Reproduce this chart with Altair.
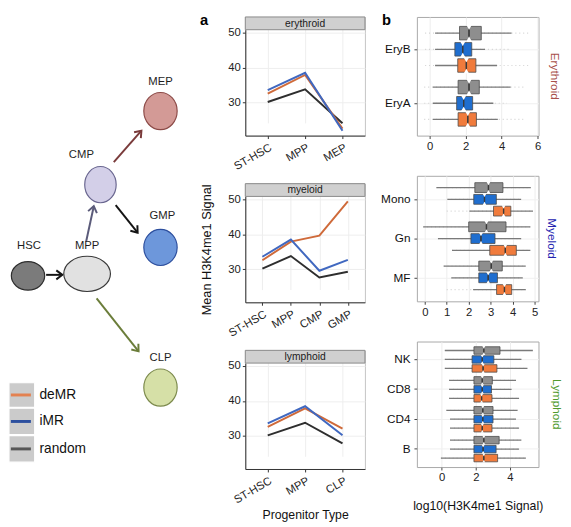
import math
import altair as alt
import pandas as pd

FONT = "Liberation Sans"

# ---------------- left: lineage diagram (reference pixel coordinates) ----------------
node_names = ["HSC", "MPP", "CMP", "MEP", "GMP", "CLP"]
node_x = [21, 83, 97, 160, 160, 160]
node_y = [278, 276, 185, 110, 249, 392]
node_w = [35, 49, 33, 35, 35, 35]
node_h = [30, 37, 38, 39, 38, 39]
node_fill = ["#7b7b7b", "#e1e1e1", "#d3cfe8", "#d39a96", "#6d97db", "#d6e0a7"]
node_stroke = ["#2e2e2e", "#3a3a3a", "#6a6790", "#8c4a47", "#2d4f9e", "#7c8a4c"]
label_x = [22, 83, 77, 160, 162, 160]
label_y = [248, 248, 155, 80, 217, 362]

arrow_from = ["HSC", "MPP", "CMP", "CMP", "MPP"]
arrow_to = ["MPP", "CMP", "MEP", "GMP", "CLP"]
arrow_x1 = [40, 82, 111, 113, 93]
arrow_y1 = [277, 243, 162, 206, 301]
arrow_x2 = [57, 90, 140, 136, 137]
arrow_y2 = [277, 207, 130, 234, 355]
arrow_color = ["#141414", "#5b5b7a", "#7a3b3b", "#141414", "#6b7d3a"]

legend_series = ["deMR", "iMR", "random"]
legend_top = [387, 413, 441]
legend_bottom = [412, 440, 468]
legend_left = [1, 1, 1]
legend_right = [28, 28, 28]
legend_key_color = ["#e38150", "#2c4f9e", "#575757"]

# ---------------- panel a: mean H3K4me1 signal ----------------
stages_ery = ["ST-HSC", "MPP", "MEP"]
stages_mye = ["ST-HSC", "MPP", "CMP", "GMP"]
stages_lym = ["ST-HSC", "MPP", "CLP"]
ery_deMR = [32.6, 37.9, 22.6]
ery_iMR = [33.6, 38.5, 22.0]
ery_random = [30.2, 33.8, 24.1]
mye_deMR = [32.6, 37.9, 39.6, 49.4]
mye_iMR = [33.6, 38.5, 29.6, 32.7]
mye_random = [30.2, 33.8, 27.7, 29.3]
lym_deMR = [32.6, 37.9, 32.1]
lym_iMR = [33.6, 38.5, 30.2]
lym_random = [30.2, 33.8, 27.9]
line_colors = {"random": "#2e2e2e", "deMR": "#cf6a3a", "iMR": "#4068c0"}

# ---------------- panel b: log10 signal box stats [lo, q1, median, q3, hi] ----------------
box_series = ["random", "iMR", "deMR"]
box_fill = {"random": "#8e8e8e", "iMR": "#1f6ecf", "deMR": "#f07b3c"}

ery_cells = ["EryB", "EryA"]
ery_random_b = [[0.30, 1.66, 2.19, 2.87, 4.55], [0.18, 1.58, 2.19, 2.76, 4.50]]
ery_iMR_b = [[0.30, 1.40, 1.84, 2.34, 3.08], [0.18, 1.50, 1.89, 2.39, 3.54]]
ery_deMR_b = [[0.30, 1.56, 2.04, 2.57, 3.75], [0.18, 1.58, 2.12, 2.60, 3.79]]
ery_tail_lo = {"random": [-0.25, -0.3], "iMR": [-0.25, -0.3], "deMR": [-0.25, -0.3]}
ery_tail_hi = {"random": [5.6, 5.3], "iMR": [4.4, 4.3], "deMR": [5.5, 5.2]}

mye_cells = ["Mono", "Gn", "MF"]
mye_random_b = [[0.53, 2.28, 2.90, 3.56, 4.83], [-0.07, 2.00, 2.81, 3.70, 4.81], [0.86, 2.46, 3.03, 3.53, 4.60]]
mye_iMR_b = [[1.03, 2.23, 2.72, 3.26, 4.39], [0.60, 2.10, 2.56, 3.20, 4.39], [1.21, 2.46, 2.89, 3.31, 4.46]]
mye_deMR_b = [[2.03, 3.13, 3.59, 3.92, 4.93], [1.24, 2.96, 3.67, 4.17, 4.81], [2.20, 3.27, 3.63, 3.96, 4.60]]
mye_tail_lo = {"random": [0.53, -0.07, 0.86], "iMR": [1.03, 0.60, 1.21], "deMR": [1.0, 1.24, 1.0]}
mye_tail_hi = {"random": [4.83, 4.81, 4.60], "iMR": [4.39, 4.39, 4.46], "deMR": [4.93, 4.81, 4.60]}

lym_cells = ["NK", "CD8", "CD4", "B"]
lym_random_b = [[0.18, 1.89, 2.47, 3.42, 5.35], [0.43, 1.89, 2.38, 2.97, 4.36],
                [0.27, 1.89, 2.41, 3.01, 4.45], [0.49, 1.89, 2.47, 3.37, 4.67]]
lym_iMR_b = [[0.18, 1.78, 2.38, 3.06, 4.68], [0.43, 1.89, 2.38, 2.92, 4.10],
             [0.49, 1.89, 2.41, 3.01, 4.36], [0.49, 1.89, 2.43, 3.19, 4.54]]
lym_deMR_b = [[0.18, 1.78, 2.43, 3.24, 5.03], [0.43, 1.89, 2.34, 2.95, 4.54],
              [0.49, 1.89, 2.38, 2.95, 4.54], [-0.05, 1.89, 2.47, 3.28, 4.94]]

# ---------------- layout ----------------
DW = 173
AW = 122
BW = 124
HEADER_H = 13
A_H = 108
B_HEIGHTS = [121, 128, 128]
TAG_Y = 8

IND = dict(color="independent", fill="independent", stroke="independent",
           shape="independent", size="independent", yOffset="independent", angle="independent")


def ellipse_path(r):
    k = 0.5523
    return (f"M 1 0 C 1 {k*r:.4f} {k:.4f} {r:.4f} 0 {r:.4f} "
            f"C {-k:.4f} {r:.4f} -1 {k*r:.4f} -1 0 "
            f"C -1 {-k*r:.4f} {-k:.4f} {-r:.4f} 0 {-r:.4f} "
            f"C {k:.4f} {-r:.4f} 1 {-k*r:.4f} 1 0 Z")


# ----- diagram -----
sx = DW / 178.0
DX = alt.Scale(domain=[0, 178], nice=False, zero=False)
DY = alt.Scale(domain=[14, 475], nice=False, zero=False, reverse=True)
DH = 461

nodes_df = pd.DataFrame({"node": node_names, "x": node_x, "y": node_y,
                         "size": [(w * sx) ** 2 for w in node_w]})
paths = [ellipse_path(h / w) for w, h in zip(node_w, node_h)]
nodes = alt.Chart(nodes_df).mark_point(opacity=1, strokeWidth=1.2, filled=False).encode(
    x=alt.X("x:Q", scale=DX, axis=None),
    y=alt.Y("y:Q", scale=DY, axis=None),
    shape=alt.Shape("node:N", scale=alt.Scale(domain=node_names, range=paths), legend=None),
    size=alt.Size("size:Q", scale=None),
    fill=alt.Fill("node:N", scale=alt.Scale(domain=node_names, range=node_fill), legend=None),
    stroke=alt.Stroke("node:N", scale=alt.Scale(domain=node_names, range=node_stroke), legend=None),
)

labels = alt.Chart(pd.DataFrame({"t": node_names, "x": label_x, "y": label_y})).mark_text(
    fontSize=11.5, color="#1e1e1e", baseline="middle").encode(
    x=alt.X("x:Q", scale=DX, axis=None), y=alt.Y("y:Q", scale=DY, axis=None), text="t:N")

arrow_ids = [f"{a}-{b}" for a, b in zip(arrow_from, arrow_to)]
arrow_angle = [
    math.degrees(math.atan2((x2 - x1) * sx, -(y2 - y1))) % 360
    for x1, y1, x2, y2 in zip(arrow_x1, arrow_y1, arrow_x2, arrow_y2)
]
arrows_df = pd.DataFrame({"id": arrow_ids, "x1": arrow_x1, "y1": arrow_y1,
                          "x2": arrow_x2, "y2": arrow_y2, "angle": arrow_angle})
arrow_scale = alt.Scale(domain=arrow_ids, range=arrow_color)
arrow_lines = alt.Chart(arrows_df).mark_rule(strokeWidth=2).encode(
    x=alt.X("x1:Q", scale=DX, axis=None), y=alt.Y("y1:Q", scale=DY, axis=None),
    x2="x2:Q", y2="y2:Q",
    color=alt.Color("id:N", scale=arrow_scale, legend=None))
arrow_heads = alt.Chart(arrows_df).mark_point(
    shape="M -0.75 1 L 0 0 L 0.75 1", filled=False, strokeWidth=2, size=150, opacity=1).encode(
    x=alt.X("x2:Q", scale=DX, axis=None), y=alt.Y("y2:Q", scale=DY, axis=None),
    angle=alt.Angle("angle:Q", scale=None),
    color=alt.Color("id:N", scale=arrow_scale, legend=None))

leg_df = pd.DataFrame({"s": legend_series, "t": legend_top, "b": legend_bottom,
                       "l": legend_left, "r": legend_right,
                       "c": [(t + b) / 2 for t, b in zip(legend_top, legend_bottom)],
                       "k1": [3, 3, 3], "k2": [24, 24, 24], "tx": [33, 33, 33]})
leg_box = alt.Chart(leg_df).mark_rect(fill="#cbcbcb", stroke="white", strokeWidth=1.2).encode(
    x=alt.X("l:Q", scale=DX, axis=None), x2="r:Q",
    y=alt.Y("t:Q", scale=DY, axis=None), y2="b:Q")
leg_key = alt.Chart(leg_df).mark_rule(strokeWidth=3).encode(
    x=alt.X("k1:Q", scale=DX, axis=None), x2="k2:Q",
    y=alt.Y("c:Q", scale=DY, axis=None),
    stroke=alt.Stroke("s:N", scale=alt.Scale(domain=legend_series, range=legend_key_color), legend=None))
leg_txt = alt.Chart(leg_df).mark_text(fontSize=14, align="left", baseline="middle", color="#111").encode(
    x=alt.X("tx:Q", scale=DX, axis=None), y=alt.Y("c:Q", scale=DY, axis=None), text="s:N")

diagram = alt.layer(leg_box, leg_key, leg_txt, arrow_lines, arrow_heads, nodes, labels).resolve_scale(
    color="independent", stroke="independent", fill="independent", shape="independent", size="independent"
).properties(width=DW, height=DH, view=alt.ViewBackground(strokeOpacity=0))


# ----- panel a (strip header drawn inside the top of each view) -----
def line_panel(name, stages, data, ytitle, xtitle, tag=None):
    rows = []
    for s, vals in data.items():
        for st, v in zip(stages, vals):
            rows.append({"stage": st, "series": s, "value": v})
    df = pd.DataFrame(rows)
    x = alt.X("stage:N", sort=stages, scale=alt.Scale(domain=stages, padding=0.6),
              axis=alt.Axis(title=xtitle, labelAngle=-30, labelAlign="right", labelBaseline="top",
                            labelFontSize=11.5, labelColor="#222", domainColor="#333", tickColor="#333",
                            tickSize=3, labelPadding=3, grid=True, gridColor="#eeeeee",
                            titleFontSize=12.5, titleFontWeight="normal", titleColor="#111",
                            titlePadding=3))
    y = alt.Y("value:Q", scale=alt.Scale(domain=[20.6, 50.8], range=[A_H + HEADER_H, HEADER_H],
                                         nice=False, zero=False),
              axis=alt.Axis(values=[30, 40, 50], title=ytitle, labelFontSize=11.5, labelColor="#222",
                            domainColor="#333", tickColor="#333", tickSize=3, labelPadding=2,
                            grid=True, gridColor="#eeeeee",
                            titleFontSize=13, titleFontWeight="normal", titleColor="#111",
                            titlePadding=15))
    layers = [
        alt.Chart(df).transform_filter(alt.datum.series == s).mark_line(
            strokeWidth=2, color=line_colors[s]).encode(x=x, y=y)
        for s in ["random", "deMR", "iMR"]
    ]
    hdf = pd.DataFrame({"t": [name]})
    layers.append(alt.Chart(hdf).mark_rect(fill="#d0d0d0", stroke="#8a8a8a", strokeWidth=1).encode(
        x=alt.value(0), x2=alt.value(AW), y=alt.value(0), y2=alt.value(HEADER_H)))
    layers.append(alt.Chart(hdf).mark_text(fontSize=10.5, color="#1a1a1a", baseline="middle").encode(
        text="t:N", x=alt.value(AW / 2), y=alt.value(HEADER_H / 2 + 0.5)))
    if tag:
        layers.append(alt.Chart(pd.DataFrame({"t": [tag]})).mark_text(
            fontSize=15, fontWeight="bold", color="#000", baseline="alphabetic").encode(
            text="t:N", x=alt.value(-42), y=alt.value(TAG_Y)))
    return alt.layer(*layers).properties(
        width=AW, height=A_H + HEADER_H, view=alt.ViewBackground(stroke="#c4c4c4", fill="white"))


a_panels = [
    line_panel("erythroid", stages_ery, {"random": ery_random, "deMR": ery_deMR, "iMR": ery_iMR},
               None, None, "a"),
    line_panel("myeloid", stages_mye, {"random": mye_random, "deMR": mye_deMR, "iMR": mye_iMR},
               "Mean H3K4me1 Signal", None),
    line_panel("lymphoid", stages_lym, {"random": lym_random, "deMR": lym_deMR, "iMR": lym_iMR},
               None, "Progenitor Type"),
]
acol = alt.vconcat(*a_panels, spacing=49, bounds="flush").resolve_scale(**IND)


# ----- panel b -----
NOTCH = "M -0.4 -1.2 L 0.4 -1.2 L 0 -0.5 Z M -0.4 1.2 L 0.4 1.2 L 0 0.5 Z"


def box_panel(cells, stats, tails_lo, tails_hi, xdom, xvals, height, title, tcolor, xtitle, tag=None):
    rows = []
    for s in box_series:
        for i, c in enumerate(cells):
            lo, q1, med, q3, hi = stats[s][i]
            rows.append(dict(cat=c, series=s, lo=lo, q1=q1, med=med, q3=q3, hi=hi,
                             tlo=tails_lo[s][i] if tails_lo else lo,
                             thi=tails_hi[s][i] if tails_hi else hi))
    df = pd.DataFrame(rows)
    n = len(cells)
    step = height / (n + 0.2)
    box_h = 0.25 * step
    xs = alt.Scale(domain=xdom, nice=False, zero=False)
    xax = alt.Axis(values=xvals, grid=True, gridColor="#ededed", domain=False, tickColor="#444",
                   tickSize=3, labelFontSize=11.5, labelColor="#222", labelPadding=2,
                   labelFlush=False, labelOverlap=False, title=xtitle, titleFontSize=12.5,
                   titleFontWeight="normal", titleColor="#111", titlePadding=17)
    y = alt.Y("cat:N", sort=cells, scale=alt.Scale(domain=cells, paddingInner=0, paddingOuter=0.1),
              axis=alt.Axis(title=None, grid=True, gridColor="#f0f0f0", domain=False, tickColor="#444",
                            tickSize=3, labelFontSize=12, labelColor="#111", labelPadding=4))
    yo = alt.YOffset("series:N", scale=alt.Scale(domain=box_series, paddingInner=1 / 6, paddingOuter=0.25))
    base = alt.Chart(df)
    tails = base.mark_rule(color="#d2d2d2", strokeWidth=1.2, strokeDash=[1, 3]).encode(
        x=alt.X("tlo:Q", scale=xs, axis=xax), x2="thi:Q", y=y, yOffset=yo)
    whisk = base.mark_rule(color="#7a7a7a", strokeWidth=1.3).encode(
        x=alt.X("lo:Q", scale=xs, axis=xax), x2="hi:Q", y=y, yOffset=yo)
    fill = alt.Fill("series:N", scale=alt.Scale(domain=box_series, range=[box_fill[s] for s in box_series]),
                    legend=None)
    left = base.mark_bar(stroke="#4a4a4a", strokeWidth=0.8, opacity=1).encode(
        x=alt.X("q1:Q", scale=xs, axis=xax), x2="med:Q", y=y, yOffset=yo, fill=fill)
    right = base.mark_bar(stroke="#4a4a4a", strokeWidth=0.8, opacity=1).encode(
        x=alt.X("med:Q", scale=xs, axis=xax), x2="q3:Q", y=y, yOffset=yo, fill=fill)
    notch = base.mark_point(shape=NOTCH, filled=True, color="white", opacity=1,
                            size=box_h ** 2, strokeWidth=0).encode(
        x=alt.X("med:Q", scale=xs, axis=xax), y=y, yOffset=yo)
    med = base.mark_tick(color="#3a3a3a", thickness=1.4, size=box_h * 0.5, opacity=1).encode(
        x=alt.X("med:Q", scale=xs, axis=xax), y=y, yOffset=yo)
    layers = [tails, whisk, left, right, notch, med]
    if tag:
        layers.append(alt.Chart(pd.DataFrame({"t": [tag]})).mark_text(
            fontSize=15, fontWeight="bold", color="#000", baseline="alphabetic").encode(
            text="t:N", x=alt.value(-31), y=alt.value(TAG_Y)))
    return alt.layer(*layers).properties(
        width=BW, height=height,
        view=alt.ViewBackground(stroke="#a8a8a8", fill="white"),
        title=alt.TitleParams(text=title, orient="right", color=tcolor, fontSize=12,
                              fontWeight="normal", anchor="middle", offset=7),
    )


b_panels = [
    box_panel(ery_cells, {"random": ery_random_b, "iMR": ery_iMR_b, "deMR": ery_deMR_b},
              ery_tail_lo, ery_tail_hi, [-0.71, 6.05], [0, 2, 4, 6], B_HEIGHTS[0],
              "Erythroid", "#a8504a", None, "b"),
    box_panel(mye_cells, {"random": mye_random_b, "iMR": mye_iMR_b, "deMR": mye_deMR_b},
              mye_tail_lo, mye_tail_hi, [-0.36, 5.18], [0, 1, 2, 3, 4, 5], B_HEIGHTS[1],
              "Myeloid", "#2323b0", None),
    box_panel(lym_cells, {"random": lym_random_b, "iMR": lym_iMR_b, "deMR": lym_deMR_b},
              None, None, [-1.46, 5.68], [0, 2, 4], B_HEIGHTS[2],
              "Lymphoid", "#4f9a2c", "log10(H3K4me1 Signal)"),
]
bcol = alt.vconcat(*b_panels, spacing=41, bounds="flush").resolve_scale(**IND)

right_part = alt.hconcat(acol, bcol, spacing=14).resolve_scale(**IND)
chart = alt.hconcat(diagram, right_part, spacing=20).resolve_scale(**IND).properties(
    padding={"left": 0, "top": -1, "right": 0, "bottom": 0}
).configure(font=FONT).configure_title(font=FONT)

chart.save("out.html", embed_options={"renderer": "svg", "actions": False})
